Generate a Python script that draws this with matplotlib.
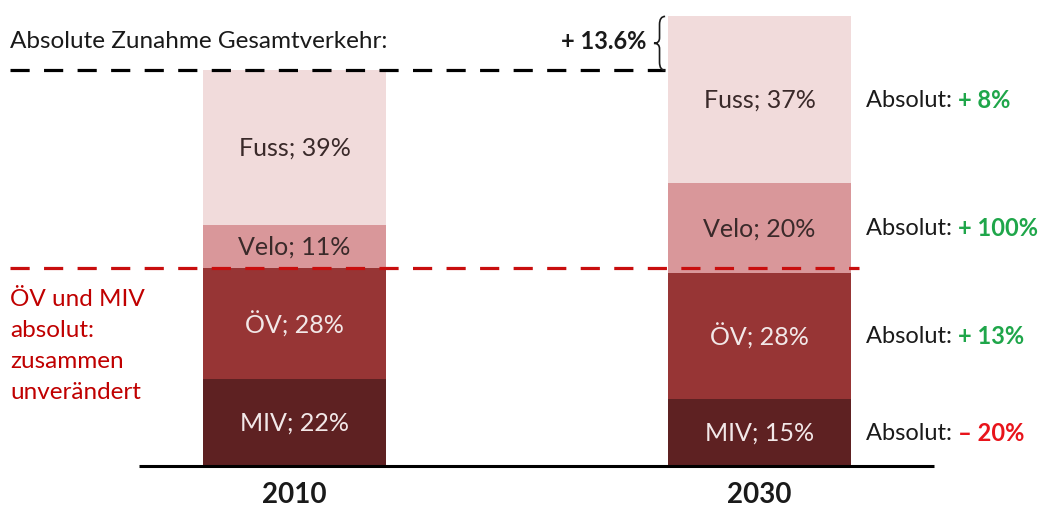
import matplotlib
matplotlib.use("Agg")
import matplotlib.pyplot as plt
import numpy as np
from matplotlib.path import Path
from matplotlib.patches import PathPatch

plt.rcParams['font.family'] = ['Lato', 'DejaVu Sans']

years = ["2010", "2030"]
modes = ["MIV", "ÖV", "Velo", "Fuss"]
totals = [100.0, 113.6]
shares = {
    "MIV": [22, 15],
    "ÖV": [28, 28],
    "Velo": [11, 20],
    "Fuss": [39, 37],
}
changes = ["– 20%", "+ 13%", "+ 100%", "+ 8%"]
change_colors = ["#E8141B", "#1FA64A", "#1FA64A", "#1FA64A"]
colors = {"MIV": "#5E2122", "ÖV": "#973535", "Velo": "#D9979A", "Fuss": "#F1DBDB"}
text_colors = {"MIV": "#F2E8E8", "ÖV": "#F2E8E8", "Velo": "#3A2A2A", "Fuss": "#3A2A2A"}

fig = plt.figure(figsize=(10.4, 5.06), dpi=100)
ax = fig.add_axes([0, 0, 1, 1])
ax.set_xlim(-0.6333, 1.6032)
ax.set_ylim(-9.87, 118.0)
ax.axis("off")

x = np.arange(len(years))
width = 0.3935
bottoms = np.zeros(len(years))
mids_2030 = []
for m in modes:
    vals = np.array(shares[m]) / 100.0 * np.array(totals)
    ax.bar(x, vals, width, bottom=bottoms, color=colors[m], edgecolor="none", zorder=2)
    for i in range(len(years)):
        ax.text(x[i], bottoms[i] + vals[i] / 2, f"{m}; {shares[m][i]}%",
                ha="center", va="center", fontsize=18, color=text_colors[m], zorder=3)
    mids_2030.append(bottoms[1] + vals[1] / 2)
    bottoms = bottoms + vals

# baseline
ax.plot([-0.335, 1.375], [0, 0], color="black", lw=2.2, zorder=4, solid_capstyle="butt")
for i, y in enumerate(years):
    ax.text(x[i], -7.0, y, ha="center", va="center", fontsize=20, fontweight="bold", color="#1a1a1a")

# black dashed line at 2010 total
ax.plot([-0.612, 0.797], [totals[0], totals[0]], color="black", lw=2.3,
        dashes=(6, 4.5), zorder=5)
ax.text(-0.612, 107.6, "Absolute Zunahme Gesamtverkehr:", ha="left", va="center",
        fontsize=17.5, color="#1a1a1a")
inc = (totals[1] / totals[0] - 1) * 100
ax.text(0.757, 107.6, f"+ {inc:.1f}%", ha="right", va="center", fontsize=17,
        fontweight="bold", color="#1a1a1a")

# brace spanning the increase
yb0, yb1 = totals[0], totals[1]
ym = (yb0 + yb1) / 2
xb = 0.785
dxp = 0.012
h = yb1 - yb0
verts = [
    (xb + dxp, yb1), (xb, yb1), (xb, yb1 - 0.15 * h), (xb, ym + 0.1 * h),
    (xb, ym), (xb - dxp, ym),
    (xb, ym), (xb, ym - 0.1 * h), (xb, yb0 + 0.15 * h), (xb, yb0), (xb + dxp, yb0),
]
codes = [Path.MOVETO, Path.CURVE3, Path.CURVE3, Path.LINETO,
         Path.CURVE3, Path.CURVE3,
         Path.CURVE3, Path.CURVE3, Path.LINETO, Path.CURVE3, Path.CURVE3]
ax.add_patch(PathPatch(Path(verts, codes), fill=False, lw=1.2, color="#1a1a1a", zorder=5))

# red dashed line at OV + MIV (2010)
ov_miv = (shares["MIV"][0] + shares["ÖV"][0]) / 100 * totals[0]
ax.plot([-0.612, 1.215], [ov_miv, ov_miv], color="#C80E0E", lw=2.3,
        dashes=(6, 4.5), zorder=5)
ax.text(-0.612, 45.0, "ÖV und MIV\nabsolut:\nzusammen\nunverändert", ha="left", va="top",
        fontsize=17.5, color="#C00000", linespacing=1.6)

# right-hand labels
for m, mid, ch, cc in zip(modes, mids_2030, changes, change_colors):
    t1 = ax.text(1.228, mid, "Absolut: ", ha="left", va="center", fontsize=17, color="#1a1a1a")
    ax.annotate(ch, xycoords=t1, xy=(1, 0.5), va="center", ha="left", fontsize=17,
                fontweight="bold", color=cc)

fig.savefig("out.png", dpi=100)
